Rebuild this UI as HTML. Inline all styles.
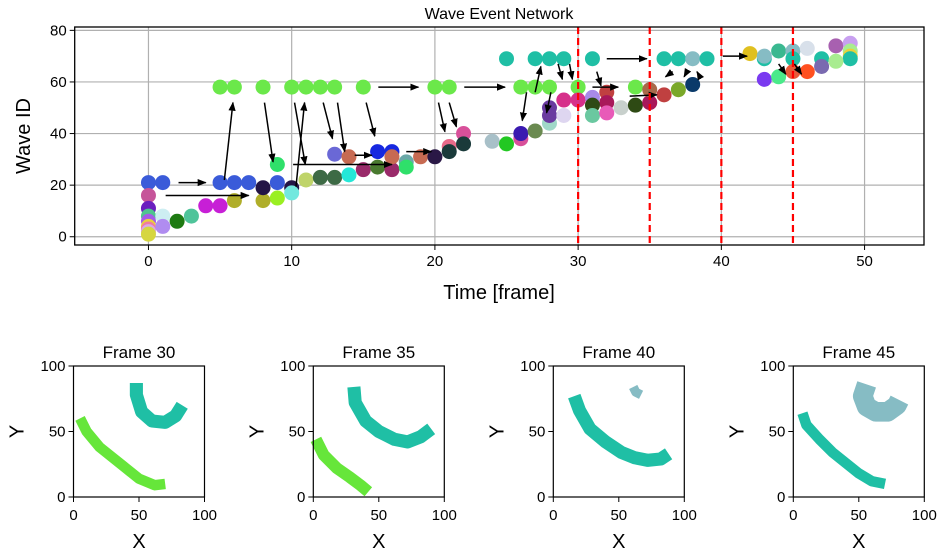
<!DOCTYPE html>
<html><head><meta charset="utf-8"><style>
html,body{margin:0;padding:0;background:#fff;}
svg{display:block;font-family:"Liberation Sans","DejaVu Sans",sans-serif;}
</style></head><body>
<svg id="fig" width="941" height="552" viewBox="0 0 941 552" xmlns="http://www.w3.org/2000/svg">
<defs><marker id="ah" viewBox="0 0 10 10" refX="9" refY="5" markerWidth="6" markerHeight="6" orient="auto"><path d="M0,1 L10,5 L0,9 z" fill="#000"/></marker></defs>
<g id="main"></g>
<g id="panels"></g>
</svg>
<script>
// ---- main chart data ----
const frames = [0,1,0,0,0,0,0,0,0,0,1,1,2,3,4,5,6,8,5,6,7,8,9,9,9,10,10,11,12,13,14,13,14,15,16,17,16,17,17,18,18,19,20,21,21,22,22,5,6,8,10,11,12,13,15,20,21,24,25,26,26,27,28,28,28,29,26,27,28,30,34,25,27,28,29,31,36,37,38,39,29,30,31,32,32,33,31,31,32,34,35,35,36,37,38,42,43,43,44,45,45,46,47,48,49,49,49,49,43,44,45,46,47,48];
const waveIds = [21,21,16,11,8,6,4,3,2,1,8,4,6,8,12,12,14,14,21,21,21,19,21,28,15,19,17,22,23,23,24,32,31,26,27,26,33,33,31,29,27,31,31,35,33,40,36,58,58,58,58,58,58,58,58,58,58,37,36,38,40,41,44,47,50,47,58,58,58,58,58,69,69,69,69,69,69,69,69,69,53,53,54,56,52,50,51,47,48,51,52,57,55,57,59,71,69,70,72,72,69,73,69,74,75,72,70,69,61,62,64,64,66,68];
const colors = ["#3a5bd9","#3a5bd9","#c6559a","#6a1fbf","#4fc48f","#a45be8","#e8d23a","#f07aa0","#d8a8e8","#d6d640","#cdeef2","#b08cf0","#1e7a12","#4fc49a","#c71fd6","#c71fd6","#b0ae2a","#b0ae2a","#3a5bd9","#3a5bd9","#3a5bd9","#241446","#3a5bd9","#2fe06a","#9aef22","#241446","#72e8de","#bfd46a","#3d6a45","#3d6a45","#24e8d8","#6a68d6","#c76a52","#9a2a6a","#4a7a30","#9a2a6a","#1628e0","#1628e0","#c76a52","#6aa8a8","#2fe06a","#c76a52","#2a1846","#e86a8a","#1a3a3a","#d8509a","#1a3a3a","#6be84a","#6be84a","#6be84a","#6be84a","#6be84a","#6be84a","#6be84a","#6be84a","#6be84a","#6be84a","#a8c0c8","#22c822","#d8509a","#3a1ab0","#6a8a50","#a0d8c8","#6a3aa0","#6a3aa0","#ded6f0","#6be84a","#6be84a","#6be84a","#6be84a","#6be84a","#1fbfa5","#1fbfa5","#1fbfa5","#1fbfa5","#1fbfa5","#1fbfa5","#1fbfa5","#86bcc4","#1fbfa5","#d6308a","#d6308a","#a88ae8","#c04040","#a8185a","#c8d0cc","#2e4a14","#6ac8a0","#e85ab8","#2e4a14","#a8185a","#a86a4a","#c04040","#7aa82a","#0a3a6a","#e0c020","#1fbfa5","#86bcc4","#3ab890","#86bcc4","#1fbfa5","#d8e0ea","#1fbfa5","#a860b0","#c8a0f0","#a8ec90","#e8d23a","#1fbfa5","#7a3af0","#4aea8a","#e85a3a","#ff5020","#7a6ab0","#a8ec90"];
// arrows: start frame, start id, end frame, end id
const arrowX1 = [2.1,5.3,8.1,10.2,10.3,12.2,13.2,15.2,16.05,20.25,21.0,22.05,14.4,18.0,1.2,10.1,32.0,40.1,31.0,26.4,27.0,28.1,28.6,29.4,31.3,33.6,36.6,37.6,38.4,44.0,45.1];
const arrowY1 = [21,22,52,52,19.4,52,52,52,58,52,52,58,31.6,33,16,28,69,70,58,56,56,56,67,67,64,54.5,64,64,63,67,67];
const arrowX2 = [4.0,5.9,8.7,10.95,10.9,12.85,13.7,15.8,18.85,20.7,21.5,24.9,15.6,19.75,7,17,34.8,41.8,32.8,26.1,27.4,27.8,28.9,29.6,31.6,35.5,36.1,37.4,38.3,44.5,45.6];
const arrowY2 = [21,52,29,28,52,38,33,39,58,40.7,42.6,58,31.6,33,16,28,69,70,58,45,66,48,61,61,58.5,55,62,62,64,63,63];
const dashFrames = [30,35,40,45];
const xTicks = [0,10,20,30,40,50];
const yTicks = [0,20,40,60,80];

const NS="http://www.w3.org/2000/svg";
function mk(tag,attrs,parent){const e=document.createElementNS(NS,tag);for(const k in attrs)e.setAttribute(k,attrs[k]);parent.appendChild(e);return e;}
const L=74.7,R=924,T=27,B=245;
const xmin=-5.15,xmax=54.15,ymin=-3.2,ymax=81.3;
const xs=v=>L+(v-xmin)/(xmax-xmin)*(R-L);
const ys=v=>B-(v-ymin)/(ymax-ymin)*(B-T);
const main=document.getElementById('main');
xTicks.forEach(t=>{const g=mk('line',{x1:xs(t),x2:xs(t),y1:T,y2:B,stroke:'#b0b0b0','stroke-width':1.2},main);

});
yTicks.forEach(t=>{const g=mk('line',{x1:L,x2:R,y1:ys(t),y2:ys(t),stroke:'#b0b0b0','stroke-width':1.2},main);

});
for(let i=0;i<frames.length;i++){const c=mk('circle',{cx:xs(frames[i]),cy:ys(waveIds[i]),r:7.5,fill:colors[i]},main);

}
for(let i=0;i<arrowX1.length;i++){const a=mk('line',{x1:xs(arrowX1[i]),y1:ys(arrowY1[i]),x2:xs(arrowX2[i]),y2:ys(arrowY2[i]),stroke:'#000','stroke-width':1.5,'marker-end':'url(#ah)'},main);

}
dashFrames.forEach(f=>{const d=mk('line',{x1:xs(f),x2:xs(f),y1:T,y2:B,stroke:'#ff0000','stroke-width':2.2,'stroke-dasharray':'7,4'},main);

});
const fr=mk('rect',{x:L,y:T,width:R-L,height:B-T,fill:'none',stroke:'#000','stroke-width':1.3},main);


xTicks.forEach(t=>{mk('line',{x1:xs(t),x2:xs(t),y1:B,y2:B+5,stroke:'#000'},main);
const tx=mk('text',{x:xs(t),y:B+21,'text-anchor':'middle','font-size':15},main);tx.textContent=t;

});
yTicks.forEach(t=>{mk('line',{x1:L-5,x2:L,y1:ys(t),y2:ys(t),stroke:'#000'},main);
const tx=mk('text',{x:L-8,y:ys(t)+5,'text-anchor':'end','font-size':15},main);tx.textContent=t;

});
</script>
<script>
(function(){
const main=document.getElementById('main');const NS="http://www.w3.org/2000/svg";
function t(txt,attrs,name){const e=document.createElementNS(NS,'text');for(const k in attrs)e.setAttribute(k,attrs[k]);e.textContent=txt;


main.appendChild(e);}
t('Wave Event Network',{x:499,y:19,'text-anchor':'middle','font-size':16},'chart-title');
t('Time [frame]',{x:499,y:299,'text-anchor':'middle','font-size':20},'x-axis-title');
t('Wave ID',{x:0,y:0,'text-anchor':'middle','font-size':20,transform:'translate(30,136) rotate(-90)'},'y-axis-title');
})();
</script>
<script>
// ---- panels data (blob centre-lines in X/Y units) ----
const panelTitles = ["Frame 30","Frame 35","Frame 40","Frame 45"];
const panelLefts = [73.5,313.3,553.3,793.3];
const blobColors = [["#66e63a","#1fbfa5"],["#66e63a","#1fbfa5"],["#1fbfa5","#86bcc4"],["#1fbfa5","#86bcc4"]];
const blobWidths = [[8,10],[9,10],[10,7],[8,15]];
const blobX = [[[5,10,20,30,40,50,62,70],[48,48,52,60,70,78,83]],
 [[2,8,18,28,36,42],[31,32,40,50,62,72,82,90]],
 [[16,20,28,40,52,62,72,82,88],[61,63,67]],
 [[7,10,20,30,40,50,60,70],[56,53,56,63,72,79,81]]];
const blobY = [[[60,50,38,30,22,14,9,10],[87,78,65,58,57,62,70]],
 [[44,32,22,15,9,4],[84,72,58,50,44,42,46,52]],
 [[77,66,52,42,34,30,28,29,33],[84,80,78]],
 [[64,55,44,34,26,18,12,10],[86,77,69,65,65,70,74]]];
const pTicks=[0,50,100];
(function(){
const NS="http://www.w3.org/2000/svg";
const root=document.getElementById('panels');
function mk(tag,attrs,parent){const e=document.createElementNS(NS,tag);for(const k in attrs)e.setAttribute(k,attrs[k]);parent.appendChild(e);return e;}
const T=366,S=131;
for(let p=0;p<4;p++){
 const L=panelLefts[p];
 const px=v=>L+v/100*S, py=v=>T+S-v/100*S;
 const g=mk('g',{},root);
 
 
 for(let b=0;b<2;b++){
  const pts=blobX[p][b].map((x,i)=>px(x)+','+py(blobY[p][b][i])).join(' ');
  const pl=mk('polyline',{points:pts,fill:'none',stroke:blobColors[p][b],'stroke-width':blobWidths[p][b]*1.31,'stroke-linecap':'butt','stroke-linejoin':'round'},g);
  
  
 }
 const r=mk('rect',{x:L,y:T,width:S,height:S,fill:'none',stroke:'#000','stroke-width':1.2},g);
 
 
 pTicks.forEach(v=>{
  mk('line',{x1:px(v),x2:px(v),y1:T+S,y2:T+S+5,stroke:'#000'},g);
  const a=mk('text',{x:px(v),y:T+S+23,'text-anchor':'middle','font-size':15},g);a.textContent=v;
  
  
  mk('line',{x1:L-5,x2:L,y1:py(v),y2:py(v),stroke:'#000'},g);
  const b2=mk('text',{x:L-8,y:py(v)+5,'text-anchor':'end','font-size':15},g);b2.textContent=v;
  
  
 });
 const ti=mk('text',{x:L+S/2,y:358,'text-anchor':'middle','font-size':17},g);ti.textContent=panelTitles[p];
 
 
 const xl=mk('text',{x:L+S/2,y:548,'text-anchor':'middle','font-size':20},g);xl.textContent='X';
 
 
 const yl=mk('text',{x:0,y:0,'text-anchor':'middle','font-size':20,transform:'translate('+(L-50)+','+(T+S/2)+') rotate(-90)'},g);yl.textContent='Y';
 
 
}
})();
</script>
</body></html>
